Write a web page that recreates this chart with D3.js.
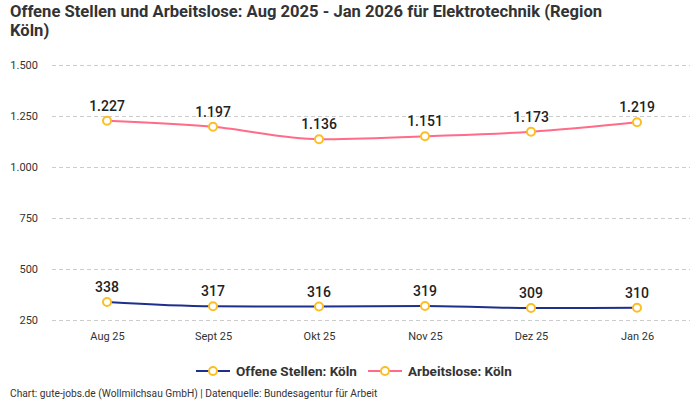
<!DOCTYPE html>
<html>
<head>
<meta charset="utf-8">
<script src="https://cdn.jsdelivr.net/npm/d3@7"></script>
<style>
  body { margin: 0; background: #fff; }
  text { font-family: "Roboto", "Noto Sans", sans-serif; }
</style>
</head>
<body>
<svg class="chart" width="700" height="400"></svg>
<script>
const months = ["Aug 25", "Sept 25", "Okt 25", "Nov 25", "Dez 25", "Jan 26"];
const offeneStellen = [338, 317, 316, 319, 309, 310];
const arbeitslose = [1227, 1197, 1136, 1151, 1173, 1219];
const yTicks = [250, 500, 750, 1000, 1250, 1500];
const seriesNames = ["Offene Stellen: Köln", "Arbeitslose: Köln"];

const svg = d3.select(".chart");
const fmt = d3.formatLocale({ decimal: ",", thousands: ".", grouping: [3], currency: ["", "€"] }).format(",d");

let leftMargin = 54;
let rightEdge = 690;

const xScale = d3.scalePoint().domain(months).range([leftMargin, rightEdge]).padding(0.5);
const yScale = d3.scaleLinear().domain([250, 1500]).range([320, 65]);

// title
svg.append("text")
  .attr("x", 10).attr("y", 17)
  .style("font-size", "16.6px").style("font-weight", "bold").style("fill", "#333")
  .text("Offene Stellen und Arbeitslose: Aug 2025 - Jan 2026 für Elektrotechnik (Region");
svg.append("text")
  .attr("x", 10).attr("y", 36)
  .style("font-size", "16.6px").style("font-weight", "bold").style("fill", "#333")
  .text("Köln)");

// grid + y axis
const yAxis = d3.axisLeft(yScale).tickValues(yTicks).tickFormat(fmt)
  .tickSize(-(rightEdge - leftMargin + 2)).tickPadding(14);
const gy = svg.append("g")
  .attr("transform", `translate(${leftMargin - 2},0)`)
  .call(yAxis);
gy.select(".domain").remove();
gy.selectAll(".tick line").attr("stroke", "#ccc").attr("stroke-dasharray", "4,3");
gy.selectAll(".tick text").style("font-size", "11px").style("fill", "#333");

// x axis
const gx = svg.append("g")
  .attr("transform", "translate(0,320)")
  .call(d3.axisBottom(xScale).tickSize(0).tickPadding(12));
gx.select(".domain").remove();
gx.selectAll(".tick text").style("font-size", "11px").style("fill", "#333");

const line = d3.line()
  .x((d, i) => xScale(months[i]))
  .y((d) => yScale(d))
  .curve(d3.curveMonotoneX);

const series = [
  { name: seriesNames[0], values: offeneStellen, color: "#1f2f8c" },
  { name: seriesNames[1], values: arbeitslose, color: "#ff6b88" }
];

series.forEach((s) => {
  svg.append("path")
    .datum(s.values)
    .attr("fill", "none")
    .attr("stroke", s.color)
    .attr("stroke-width", 2)
    .attr("d", line);

  svg.selectAll(null)
    .data(s.values)
    .enter()
    .append("circle")
    .attr("cx", (d, i) => xScale(months[i]))
    .attr("cy", (d) => yScale(d))
    .attr("r", 4)
    .attr("fill", "#fff")
    .attr("stroke", "#fbbf24")
    .attr("stroke-width", 2);

  svg.selectAll(null)
    .data(s.values)
    .enter()
    .append("text")
    .attr("x", (d, i) => xScale(months[i]))
    .attr("y", (d) => yScale(d) - 10)
    .attr("text-anchor", "middle")
    .style("font-size", "14px")
    .style("font-weight", "500")
    .style("fill", "#222")
    .style("paint-order", "stroke")
    .style("stroke", "#fff")
    .style("stroke-width", "2px")
    .text((d) => fmt(d));
});

// legend
const legendX = [196, 368];
series.forEach((s, i) => {
  const g = svg.append("g").attr("transform", `translate(${legendX[i]},371)`);
  g.append("line").attr("x1", 0).attr("x2", 34).attr("stroke", s.color).attr("stroke-width", 2);
  g.append("circle").attr("cx", 17).attr("r", 4).attr("fill", "#fff")
    .attr("stroke", "#fbbf24").attr("stroke-width", 2);
  g.append("text").attr("x", 40).attr("y", 4.5)
    .style("font-size", "13.5px").style("font-weight", "bold").style("fill", "#333")
    .text(s.name);
});

// credits
svg.append("text")
  .attr("x", 10).attr("y", 397)
  .style("font-size", "10.2px").style("fill", "#333")
  .text("Chart: gute-jobs.de (Wollmilchsau GmbH) | Datenquelle: Bundesagentur für Arbeit");
</script>
</body>
</html>
